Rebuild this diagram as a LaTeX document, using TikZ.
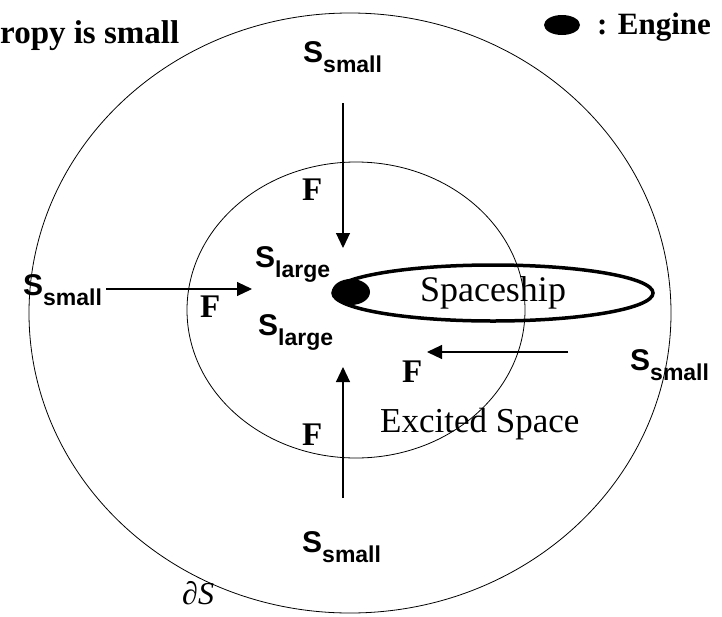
\documentclass[tikz,border=0pt]{standalone}
\usepackage{fontspec}
\setmainfont{Liberation Serif}
\newfontfamily\arialfont{Liberation Sans}
\usetikzlibrary{arrows.meta, shapes.geometric}

\newcommand{\entropyS}[1]{{\arialfont\bfseries\fontsize{30}{30}\selectfont S\raisebox{-10pt}{\fontsize{23}{23}\selectfont #1}}}

\begin{document}
\begin{tikzpicture}[
    x=1pt, y=-1pt,
    region/.style={draw, line width=0.8pt},
    slabel/.style={inner sep=0pt, anchor=base west},
    txt/.style={inner sep=0pt, anchor=base west, font=\fontsize{35}{35}\selectfont},
    bold/.style={txt, font=\fontsize{33}{33}\selectfont\bfseries},
    force/.style={-{Triangle[length=15pt, width=14pt]}, line width=1.1pt},
]
  \useasboundingbox (0,0) rectangle (722,616);

  % regions
  \draw[region] (350,313) ellipse [x radius=321, y radius=300];
  \draw[region] (356,310) ellipse [x radius=169, y radius=148];

  % spaceship and engine
  \node[ellipse, draw, line width=3.5pt, minimum width=320pt, minimum height=56pt,
        font=\fontsize{36}{36}\selectfont] (ship) at (493,293) {Spaceship};
  \node[ellipse, fill=black, minimum width=38pt, minimum height=26pt, inner sep=0pt] (engine) at (351,292) {};

  % legend
  \node[ellipse, fill=black, minimum width=36pt, minimum height=20pt, inner sep=0pt] (legdot) at (562,25) {};
  \node[bold, font=\fontsize{31}{31}\selectfont\bfseries] (legtext) at (597,34) {: Engine};
  \node[bold] (title) at (0,43) {ropy is small};

  % entropy labels
  \node[slabel] (stop) at (303,62) {\entropyS{small}};
  \node[slabel] (sleft) at (23,295) {\entropyS{small}};
  \node[slabel] (sright) at (630,370) {\entropyS{small}};
  \node[slabel] (sbottom) at (302,552) {\entropyS{small}};
  \node[slabel] (lup) at (255,267) {\entropyS{large}};
  \node[slabel] (llow) at (258,335) {\entropyS{large}};

  % forces
  \node[bold] (ftop) at (302,200) {F};
  \node[bold] (fleft) at (200,317) {F};
  \node[bold] (fbottom) at (302,445) {F};
  \node[bold] (fright) at (402,382) {F};

  \node[txt] (excited) at (380,432) {Excited Space};
  \node[txt, font=\fontsize{32}{32}\selectfont] (boundary) at (182,604) {∂\textit{S}};

  \coordinate (atop) at (343,103);
  \coordinate (aleft) at (106,289);
  \coordinate (abottom) at (343,498);
  \coordinate (aright) at (568,352);
  \coordinate (ctop) at (343,248);
  \coordinate (cleft) at (252,289);
  \coordinate (cbottom) at (343,367);
  \coordinate (cright) at (427,352);

  \draw[force] (atop) -- (ctop);
  \draw[force] (aleft) -- (cleft);
  \draw[force] (abottom) -- (cbottom);
  \draw[force] (aright) -- (cright);
\end{tikzpicture}
\end{document}
